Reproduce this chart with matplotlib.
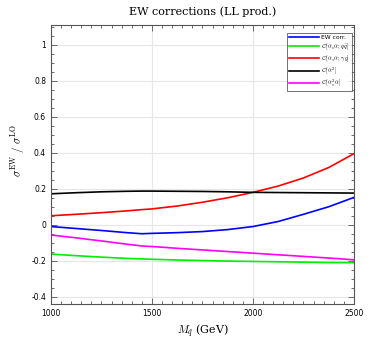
import matplotlib
matplotlib.use("Agg")
import matplotlib.pyplot as plt
from matplotlib.ticker import MultipleLocator

plt.rcParams["mathtext.fontset"] = "cm"

# squark mass (GeV)
mass = [1000, 1125, 1250, 1375, 1450, 1500, 1625, 1750, 1875, 2000, 2125, 2250, 2375, 2500]

ew_corr = [-0.010, -0.021, -0.032, -0.044, -0.050, -0.048, -0.044, -0.038, -0.027, -0.010, 0.018, 0.058, 0.100, 0.152]
o_as_a_qq = [-0.163, -0.172, -0.180, -0.187, -0.190, -0.192, -0.196, -0.199, -0.202, -0.204, -0.206, -0.208, -0.210, -0.211]
o_as_a_gg = [0.050, 0.058, 0.067, 0.077, 0.084, 0.088, 0.104, 0.125, 0.150, 0.180, 0.215, 0.260, 0.318, 0.395]
o_a2 = [0.172, 0.178, 0.183, 0.186, 0.187, 0.187, 0.186, 0.185, 0.183, 0.180, 0.179, 0.178, 0.177, 0.176]
o_as2_a = [-0.057, -0.073, -0.090, -0.108, -0.118, -0.121, -0.131, -0.140, -0.149, -0.158, -0.167, -0.176, -0.185, -0.195]

series = [
    (ew_corr, "blue", "EW corr."),
    (o_as_a_qq, "#00ee00", r"$\mathcal{O}[\alpha_s\alpha;\, q\bar{q}]$"),
    (o_as_a_gg, "red", r"$\mathcal{O}[\alpha_s\alpha;\, \gamma g]$"),
    (o_a2, "black", r"$\mathcal{O}[\alpha^2]$"),
    (o_as2_a, "magenta", r"$\mathcal{O}[\alpha_s^2\alpha]$"),
]

fig = plt.figure(figsize=(3.92, 3.43), dpi=100)
ax = fig.add_axes([0.130, 0.114, 0.773, 0.813])

for vals, color, label in series:
    ax.plot(mass, vals, color=color, lw=1.2, label=label)

ax.set_xlim(1000, 2500)
ax.set_ylim(-0.44, 1.11)
ax.xaxis.set_major_locator(MultipleLocator(500))
ax.xaxis.set_minor_locator(MultipleLocator(50))
ax.yaxis.set_minor_locator(MultipleLocator(0.05))
ax.set_yticks([-0.4, -0.2, 0, 0.2, 0.4, 0.6, 0.8, 1.0])
ax.set_yticklabels(["-0.4", "-0.2", "0", "0.2", "0.4", "0.6", "0.8", "1"])
ax.tick_params(which="both", direction="in", top=True, right=True, labelsize=5.5, width=0.6, color="#555555")
ax.tick_params(which="major", length=4)
ax.tick_params(which="minor", length=2)
ax.grid(True, which="major", color="#e6e6e6", lw=0.8)
for s in ax.spines.values():
    s.set_color("#555555")
    s.set_linewidth(0.8)

ax.set_title("EW corrections (LL prod.)", family="DejaVu Serif", fontsize=8, pad=7)
ax.set_xlabel(r"$M_{\tilde{q}}$ (GeV)", family="DejaVu Serif", fontsize=8)
ax.set_ylabel(r"$\sigma^{\rm EW}\ /\ \sigma^{\rm LO}$", fontsize=8)
ax.xaxis.set_label_coords(0.5, -0.065)
ax.yaxis.set_label_coords(-0.08, 0.55)

leg = ax.legend(loc="upper right", bbox_to_anchor=(0.993, 0.971), borderaxespad=0,
                fontsize=4.3, frameon=True, fancybox=False, edgecolor="#333333",
                handlelength=5.0, handletextpad=0.4, borderpad=0.35, labelspacing=0.25)
leg.get_frame().set_linewidth(0.6)

fig.savefig("out.png", dpi=100)
